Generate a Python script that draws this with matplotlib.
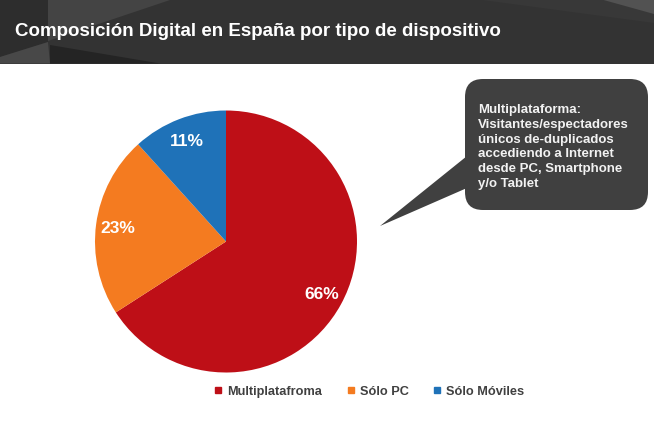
import matplotlib
matplotlib.use('Agg')
import matplotlib.pyplot as plt
from matplotlib.patches import FancyBboxPatch, Polygon, Rectangle
from matplotlib.lines import Line2D

W, H = 654, 435

# Pie data: wedge sizes, labels as printed on it
categories = ['Multiplatafroma', 'Sólo PC', 'Sólo Móviles']
shares = [65.9, 22.4, 11.7]
share_labels = ['66%', '23%', '11%']
colors = ['#be0f17', '#f47b20', '#1f72b8']

title = 'Composición Digital en España por tipo de dispositivo'
callout = ('Multiplataforma:\nVisitantes/espectadores\núnicos de-duplicados\n'
           'accediendo a Internet\ndesde PC, Smartphone\ny/o Tablet')

plt.rcParams['font.family'] = ['Liberation Sans', 'DejaVu Sans']

fig = plt.figure(figsize=(W / 100, H / 100), dpi=100, facecolor='white')

# background layer in pixel coords
bg = fig.add_axes([0, 0, 1, 1])
bg.set_xlim(0, W)
bg.set_ylim(H, 0)
bg.axis('off')

# header band
bg.add_patch(Rectangle((0, 0), W, 64.5, fc='#333333', ec='none'))
bg.add_patch(Polygon([(48, 0), (173, 0), (48, 42)], fc='#444444', ec='none'))
bg.add_patch(Polygon([(0, 0), (48, 0), (48, 43), (0, 58)], fc='#2d2d2d', ec='none'))
bg.add_patch(Polygon([(0, 58), (48, 43), (50, 64.5), (0, 64.5)], fc='#484848', ec='none'))
bg.add_patch(Polygon([(50, 46), (160, 64.5), (50, 64.5)], fc='#242424', ec='none'))
bg.add_patch(Polygon([(475, 0), (654, 0), (654, 24)], fc='#383838', ec='none'))
bg.add_patch(Polygon([(600, 0), (654, 0), (654, 15)], fc='#525252', ec='none'))
bg.text(15, 31, title, color='white', fontsize=13.5, fontweight='bold', va='center', ha='left')

# speech bubble
bubble_color = '#404040'
bg.add_patch(Polygon([(467, 157), (380, 227), (467, 189)], fc=bubble_color, ec='none'))
bg.add_patch(FancyBboxPatch((483, 98), 147, 95,
                            boxstyle='round,pad=18,rounding_size=18',
                            fc=bubble_color, ec='none'))
bg.text(478, 147, callout, color='#f2f2f2', fontsize=9.5, fontweight='bold',
        va='center', ha='left', linespacing=1.3)

# pie
ax = fig.add_axes([95 / W, (H - 373.5) / H, 262 / W, 262 / H])
wedges, _, autotexts = ax.pie(shares, colors=colors, startangle=90, counterclock=False,
                              radius=1, autopct='%d%%', pctdistance=0.83,
                              textprops={'color': 'white', 'fontsize': 12.5, 'fontweight': 'bold'})
for t, s in zip(autotexts, share_labels):
    t.set_text(s)
ax.set_xlim(-1, 1)
ax.set_ylim(-1, 1)

# legend
handles = [Line2D([], [], ls='none', marker='s', ms=4.5, color=c) for c in colors]
fig.legend(handles, categories, loc='center', bbox_to_anchor=(369 / W, (H - 392) / H),
           ncol=3, frameon=False, labelcolor='#404040',
           handlelength=0.7, handletextpad=0.35, columnspacing=1.9,
           prop={'weight': 'bold', 'size': 9.2})

fig.savefig('out.png', dpi=100)
